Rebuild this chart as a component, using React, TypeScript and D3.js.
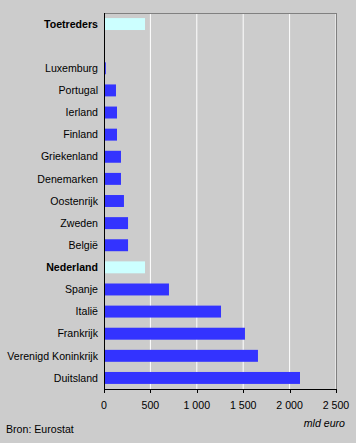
import React from "react";
import * as d3 from "d3";

const categories = [
  "Toetreders", "", "Luxemburg", "Portugal", "Ierland", "Finland", "Griekenland",
  "Denemarken", "Oostenrijk", "Zweden", "België", "Nederland", "Spanje", "Italië",
  "Frankrijk", "Verenigd Koninkrijk", "Duitsland",
];
const values = [442, null, 20, 129, 140, 140, 183, 183, 215, 259, 259, 442, 700, 1261, 1519, 1659, 2112];
const highlighted = ["Toetreders", "Nederland"];
const xTicks = [0, 500, 1000, 1500, 2000, 2500];
const xTickLabels = ["0", "500", "1 000", "1 500", "2 000", "2 500"];

const W = 356, H = 443;
const left = 104, right = 336, top = 13, bottom = 389;

export default function App() {
  const x = d3.scaleLinear().domain([0, 2500]).range([left, right]);
  const y = d3.scaleBand<string>().domain(categories.map((c, i) => i + "")).range([top, bottom]).paddingInner(0.46).paddingOuter(0.23);
  const font = "'Liberation Sans', Arial, sans-serif";
  const fs = 10.6;
  return (
    <svg width={W} height={H} style={{ position: "absolute", left: 0, top: 0 }} fontFamily={font}>
      <rect x={0} y={0} width={W} height={H} fill="#cccccc" />
      {xTicks.slice(1).map((t) => (
        <line key={t} x1={x(t)} x2={x(t)} y1={top} y2={bottom} stroke="#ffffff" strokeWidth={1} />
      ))}
      <line x1={left} x2={right + 0.5} y1={top + 0.5} y2={top + 0.5} stroke="#808080" />
      <line x1={right + 0.5} x2={right + 0.5} y1={top} y2={bottom} stroke="#808080" />
      {categories.map((c, i) => {
        const v = values[i];
        const yy = y(i + "")!;
        const hl = highlighted.includes(c);
        return (
          <g key={i}>
            {v != null && (
              <rect x={x(0)} y={yy} width={x(v) - x(0)} height={y.bandwidth()} fill={hl ? "#ccffff" : "#3333ff"} />
            )}
            {c && (
              <text x={98} y={yy + y.bandwidth() / 2} dy="0.35em" textAnchor="end" fontSize={fs}
                fontWeight={hl ? "bold" : "normal"} fill="#000">{c}</text>
            )}
          </g>
        );
      })}
      <line x1={left + 0.5} x2={left + 0.5} y1={top} y2={bottom} stroke="#000" />
      <line x1={left} x2={right + 1} y1={bottom + 0.5} y2={bottom + 0.5} stroke="#000" />
      {xTicks.map((t, i) => (
        <g key={t}>
          <line x1={Math.round(x(t)) + 0.5} x2={Math.round(x(t)) + 0.5} y1={bottom} y2={bottom + 4} stroke="#000" />
          <text x={x(t)} y={405} dy="0.35em" textAnchor="middle" fontSize={fs} fill="#000">{xTickLabels[i]}</text>
        </g>
      ))}
      <text x={345} y={423} dy="0.35em" textAnchor="end" fontSize={fs} fontStyle="italic" fill="#000">mld euro</text>
      <text x={6} y={429} dy="0.35em" textAnchor="start" fontSize={fs} fill="#000">Bron: Eurostat</text>
    </svg>
  );
}
